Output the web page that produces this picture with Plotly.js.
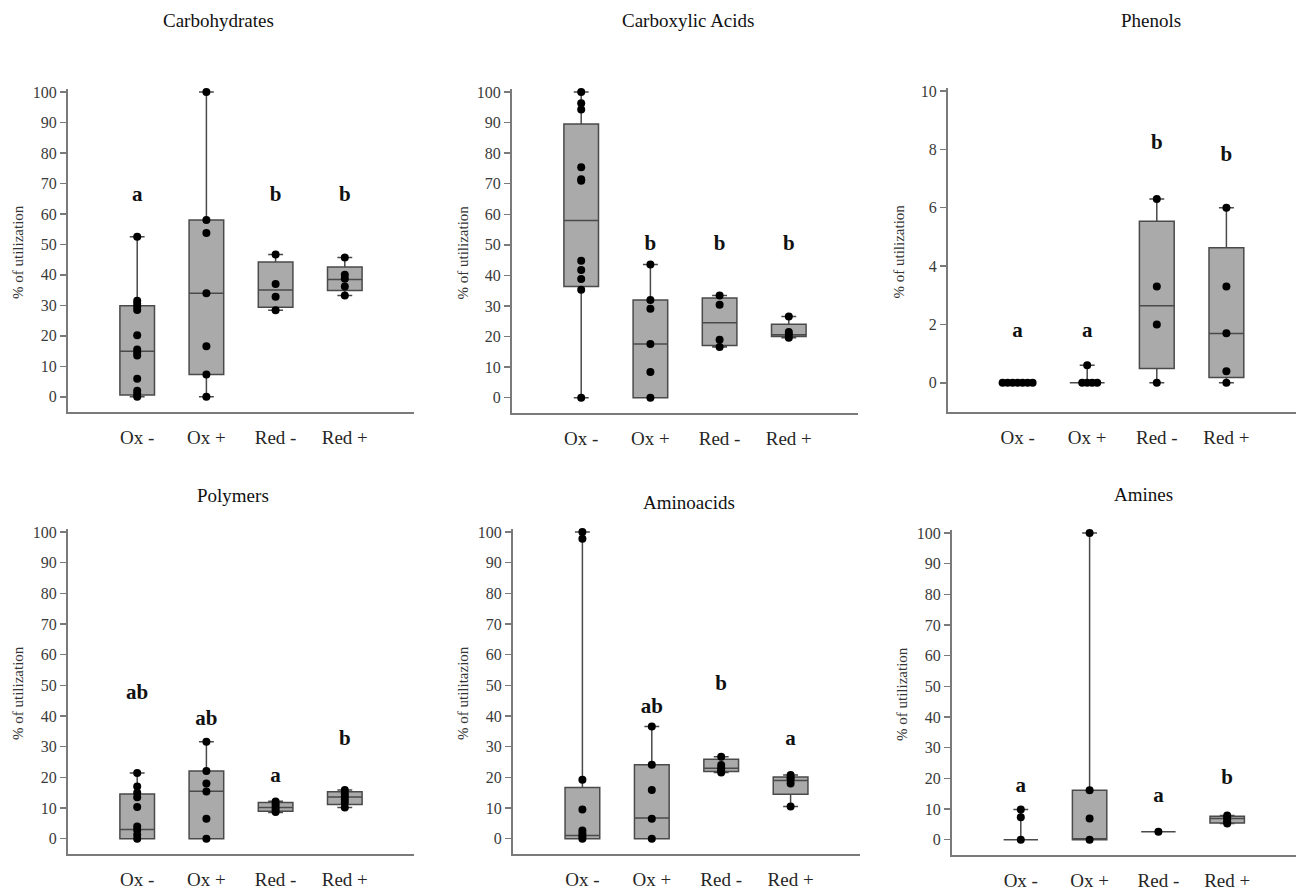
<!DOCTYPE html>
<html>
<head>
<meta charset="utf-8">
<script src="https://cdn.plot.ly/plotly-3.0.1.min.js"></script>
<style>html,body{margin:0;padding:0;background:#fff;}#chart{width:1296px;height:891px;}</style>
</head>
<body>
<div id="chart"></div>
<script>
// ---------------- DATA ----------------
const categories = ['Ox -', 'Ox +', 'Red -', 'Red +'];
const panelTitles = ['Carbohydrates', 'Carboxylic Acids', 'Phenols', 'Polymers', 'Aminoacids', 'Amines'];
const yTitles = ['% of utilization', '% of utilization', '% of utilization', '% of utilization', '% of utilitazion', '% of utilization'];

// Carbohydrates
const carbQ1 = [0.6, 7.3, 29.4, 34.9];
const carbMedian = [14.9, 34.0, 35.0, 38.5];
const carbQ3 = [29.9, 58.0, 44.2, 42.6];
const carbLow = [0, 0, 28.4, 33.2];
const carbHigh = [52.5, 100, 46.7, 45.7];
const carbPoints = [[52.5, 31.5, 30.5, 29.5, 28.5, 20.2, 15.5, 14.5, 13.5, 5.9, 2.0, 1.0, 0], [100, 58, 53.7, 34, 16.6, 7.3, 0], [46.7, 37, 32.8, 28.4], [45.7, 40, 38.7, 36.2, 33.2]];
const carbLetters = ['a', 'ab', 'b', 'b'];

// Carboxylic Acids
const acidQ1 = [36.4, 0, 17.1, 20.0];
const acidMedian = [58.0, 17.6, 24.5, 20.6];
const acidQ3 = [89.5, 32.0, 32.6, 24.0];
const acidLow = [0, 0, 16.6, 19.6];
const acidHigh = [100, 43.6, 33.4, 26.6];
const acidPoints = [[100, 96.3, 94.3, 75.4, 71.5, 71, 44.8, 41.8, 38.8, 35.3, 0], [43.6, 32, 29.1, 17.6, 8.4, 0], [33.4, 30.4, 19, 16.6], [26.6, 21.5, 20.7, 19.6]];
const acidLetters = ['a', 'b', 'b', 'b'];

// Phenols
const phenQ1 = [0, 0, 0.49, 0.18];
const phenMedian = [0, 0, 2.64, 1.69];
const phenQ3 = [0, 0, 5.54, 4.63];
const phenLow = [0, 0, 0, 0];
const phenHigh = [0, 0.6, 6.3, 6.0];
const phenPoints = [[0, 0, 0, 0, 0, 0, 0], [0.6, 0, 0, 0, 0], [6.3, 3.3, 2.0, 0], [6.0, 3.3, 1.7, 0.4, 0]];
const phenLetters = ['a', 'a', 'b', 'b'];

// Polymers
const polyQ1 = [0, 0, 8.9, 11.1];
const polyMedian = [3.0, 15.5, 10.2, 13.6];
const polyQ3 = [14.6, 22.1, 11.8, 15.3];
const polyLow = [0, 0, 8.5, 10.2];
const polyHigh = [21.4, 31.6, 12.2, 15.9];
const polyPoints = [[21.4, 17, 15, 13.5, 10.3, 4, 2.8, 1.3, 0], [31.6, 22.1, 18, 15.4, 6.5, 0], [12.1, 11.2, 10.3, 9.5, 8.7], [15.9, 14.8, 13.8, 12.8, 11.7, 10.2]];
const polyLetters = ['ab', 'ab', 'a', 'b'];

// Aminoacids
const aminoQ1 = [0, 0, 21.9, 14.5];
const aminoMedian = [1.0, 6.7, 23.0, 19.0];
const aminoQ3 = [16.7, 24.1, 25.9, 20.1];
const aminoLow = [0, 0, 21.6, 10.5];
const aminoHigh = [100, 36.6, 26.7, 20.8];
const aminoPoints = [[100, 97.8, 19.2, 9.5, 2.7, 1.7, 0.8, 0], [36.6, 24.1, 15.9, 6.5, 0], [26.7, 24, 23, 22.2, 21.6], [20.8, 19.9, 19.2, 18, 10.5]];
const aminoLetters = ['ab', 'ab', 'b', 'a'];

// Amines
const amineQ1 = [0, 0, 2.6, 5.4];
const amineMedian = [0, 0, 2.6, 6.9];
const amineQ3 = [0, 16.1, 2.6, 7.6];
const amineLow = [0, 0, 2.6, 5.3];
const amineHigh = [9.8, 100, 2.6, 7.9];
const aminePoints = [[9.8, 7.3, 0], [100, 16.1, 6.9, 0], [2.6], [7.9, 7.2, 6.5, 5.8, 5.3]];
const amineLetters = ['a', 'ab', 'a', 'b'];

// ---------------- LAYOUT CONFIG ----------------
const W = 1296, H = 891;
const FONT = 'Liberation Serif, Times New Roman, serif';
const panels = [
  {q1: carbQ1, med: carbMedian, q3: carbQ3, lo: carbLow, hi: carbHigh, pts: carbPoints, letters: carbLetters,
   letterY: [66, 108, 66, 66], left: 68, right: 414, topTick: 92, bottom: 412, min: -5, tickMax: 100, pad: 1, dtick: 10,
   title: [218, 20], ytitleX: 18},
  {q1: acidQ1, med: acidMedian, q3: acidQ3, lo: acidLow, hi: acidHigh, pts: acidPoints, letters: acidLetters,
   letterY: [108, 50, 50, 50], left: 512, right: 858, topTick: 92, bottom: 413, min: -5, tickMax: 100, pad: 1, dtick: 10,
   title: [688, 20], ytitleX: 462},
  {q1: phenQ1, med: phenMedian, q3: phenQ3, lo: phenLow, hi: phenHigh, pts: phenPoints, letters: phenLetters,
   letterY: [1.75, 1.75, 8.2, 7.77], left: 948, right: 1296, topTick: 91, bottom: 412, min: -1, tickMax: 10, pad: 0.1, dtick: 2,
   title: [1151, 20], ytitleX: 898},
  {q1: polyQ1, med: polyMedian, q3: polyQ3, lo: polyLow, hi: polyHigh, pts: polyPoints, letters: polyLetters,
   letterY: [47.2, 38.9, 20.3, 32.4], left: 68, right: 414, topTick: 532, bottom: 854, min: -5, tickMax: 100, pad: 1, dtick: 10,
   title: [233, 495], ytitleX: 18},
  {q1: aminoQ1, med: aminoMedian, q3: aminoQ3, lo: aminoLow, hi: aminoHigh, pts: aminoPoints, letters: aminoLetters,
   letterY: [106.8, 42.8, 50.1, 32.2], left: 513, right: 860, topTick: 532, bottom: 854, min: -5, tickMax: 100, pad: 1, dtick: 10,
   title: [689, 502], ytitleX: 463},
  {q1: amineQ1, med: amineMedian, q3: amineQ3, lo: amineLow, hi: amineHigh, pts: aminePoints, letters: amineLetters,
   letterY: [17.2, 106.8, 13.9, 19.9], left: 952, right: 1296, topTick: 533, bottom: 855, min: -5, tickMax: 100, pad: 1, dtick: 10,
   title: [1143, 494], ytitleX: 902}
];

const AXIS_COLOR = '#7a7a7a';
const traces = [];
const layout = {
  width: W, height: H,
  margin: {l: 0, r: 0, t: 0, b: 0},
  paper_bgcolor: '#ffffff', plot_bgcolor: 'rgba(0,0,0,0)',
  showlegend: false, boxmode: 'overlay',
  font: {family: FONT, color: '#222'},
  annotations: []
};

function swarmX(vals, base, pxPerUnitY, pxPerUnitX) {
  const step = 5;
  const placed = [];
  return vals.map(v => {
    const ypx = v * pxPerUnitY;
    for (let k = 0; k < 50; k++) {
      const off = k === 0 ? 0 : (k % 2 ? 1 : -1) * Math.ceil(k / 2) * step;
      const clash = placed.some(p => Math.abs(p.y - ypx) < 1.5 && Math.abs(p.x - off) < step * 0.9);
      if (!clash) { placed.push({x: off, y: ypx}); return base + off / pxPerUnitX; }
    }
    return base;
  });
}

panels.forEach((p, i) => {
  const n = i + 1;
  const xa = n === 1 ? 'x' : 'x' + n;
  const ya = n === 1 ? 'y' : 'y' + n;
  const pxPerUnitY = (p.bottom - p.topTick) / (p.tickMax - p.min);
  const rangeMax = p.tickMax + p.pad;
  const topPx = p.topTick - p.pad * pxPerUnitY;
  const pxPerUnitX = (p.right - p.left) / 5;
  const positions = categories.map((c, k) => k);

  layout['xaxis' + (n === 1 ? '' : n)] = {
    domain: [p.left / W, p.right / W], anchor: ya, range: [-1, 4],
    showline: true, linecolor: AXIS_COLOR, linewidth: 2,
    tickmode: 'array', tickvals: positions, ticktext: categories,
    ticks: 'outside', ticklen: 7, tickcolor: 'rgba(0,0,0,0)',
    tickfont: {family: FONT, size: 19, color: '#262626'},
    showgrid: false, zeroline: false, fixedrange: true
  };
  const tv = [];
  for (let t = 0; t <= p.tickMax + 1e-9; t += p.dtick) tv.push(+t.toFixed(3));
  layout['yaxis' + (n === 1 ? '' : n)] = {
    domain: [1 - p.bottom / H, 1 - topPx / H], anchor: xa, range: [p.min, rangeMax],
    showline: true, linecolor: AXIS_COLOR, linewidth: 2,
    tickmode: 'array', tickvals: tv,
    ticks: 'outside', ticklen: 6, tickwidth: 1.5, tickcolor: AXIS_COLOR,
    tickfont: {family: FONT, size: 16, color: '#3a3a3a'},
    showgrid: false, zeroline: false, fixedrange: true
  };

  traces.push({
    type: 'box', xaxis: xa, yaxis: ya,
    x: positions, q1: p.q1, median: p.med, q3: p.q3, lowerfence: p.lo, upperfence: p.hi,
    width: 0.5, whiskerwidth: 0.43, boxpoints: false,
    fillcolor: '#aaaaaa', line: {color: '#4a4a4a', width: 1.5},
    hoverinfo: 'skip'
  });

  const px = [], py = [];
  p.pts.forEach((vals, k) => {
    const xs = swarmX(vals, k, pxPerUnitY, pxPerUnitX);
    vals.forEach((v, j) => { px.push(xs[j]); py.push(v); });
  });
  traces.push({
    type: 'scatter', mode: 'markers', xaxis: xa, yaxis: ya,
    x: px, y: py, cliponaxis: false,
    marker: {color: '#000000', size: 8},
    hoverinfo: 'skip'
  });

  traces.push({
    type: 'scatter', mode: 'text', xaxis: xa, yaxis: ya,
    x: positions, y: p.letterY, text: p.letters, cliponaxis: false,
    textposition: 'middle center',
    textfont: {family: FONT, size: 21, color: '#111', weight: 'bold'},
    hoverinfo: 'skip'
  });

  layout.annotations.push({
    xref: 'paper', yref: 'paper', x: p.title[0] / W, y: 1 - p.title[1] / H,
    xanchor: 'center', yanchor: 'middle', showarrow: false,
    text: panelTitles[i], font: {family: FONT, size: 19, color: '#111'}
  });
  layout.annotations.push({
    xref: 'paper', yref: 'paper', x: p.ytitleX / W, y: 1 - ((p.topTick + p.bottom) / 2) / H,
    xanchor: 'center', yanchor: 'middle', showarrow: false, textangle: -90,
    text: yTitles[i], font: {family: FONT, size: 15, color: '#333'}
  });
});

Plotly.newPlot('chart', traces, layout, {displayModeBar: false, staticPlot: true});
</script>
</body>
</html>
